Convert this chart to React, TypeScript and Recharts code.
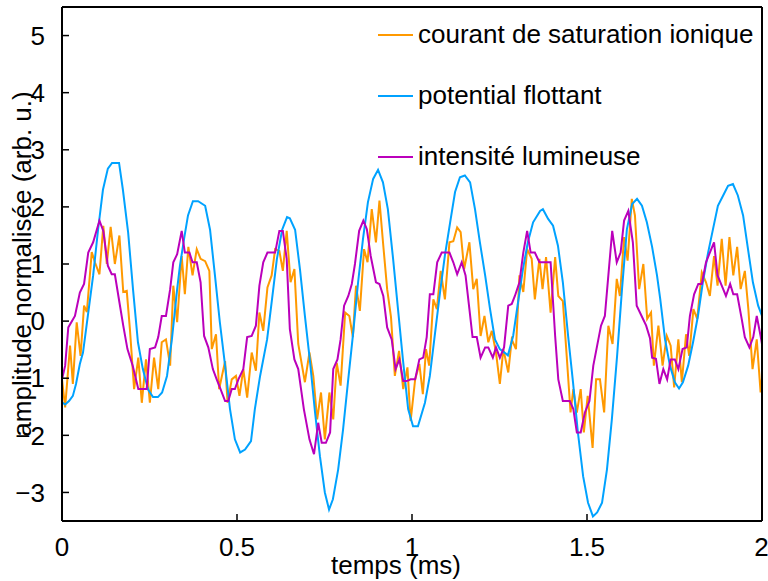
import { LineChart, Line, XAxis, YAxis, Legend } from 'recharts';

// time (ms), amplitude pairs
const courant: [number, number][] = [
  [0, -1.02], [0.009, -1.51], [0.023, -0.43], [0.031, -1.1], [0.042, -0.02], [0.053, -0.61],
  [0.063, 0.27], [0.071, 0.16], [0.085, 1.21], [0.094, 1.03], [0.107, 0.82], [0.118, 1.67],
  [0.128, 1.0], [0.139, 1.65], [0.151, 1.0], [0.164, 1.5], [0.175, 0.51], [0.185, 0.53],
  [0.194, -0.14], [0.206, -1.19], [0.218, -0.64], [0.228, -1.43], [0.24, -0.67], [0.251, -1.43],
  [0.263, -0.64], [0.275, -1.19], [0.285, -0.37], [0.297, -0.32], [0.309, -0.78], [0.318, 0.62],
  [0.329, -0.02], [0.342, 1.14], [0.351, 0.47], [0.361, 1.3], [0.373, 0.8], [0.385, 1.26],
  [0.396, 1.09], [0.409, 1.05], [0.421, 0.88], [0.428, -0.49], [0.44, -0.23], [0.449, -1.19],
  [0.466, -0.7], [0.473, -1.43], [0.485, -1.02], [0.497, -0.96], [0.507, -1.31], [0.518, -0.84],
  [0.529, -1.34], [0.542, -0.55], [0.554, -0.87], [0.564, 0.15], [0.575, -0.17], [0.587, 0.59],
  [0.599, 0.8], [0.609, 1.26], [0.621, 1.23], [0.631, 0.88], [0.642, 1.58], [0.653, 0.68],
  [0.664, 0.91], [0.675, -0.4], [0.694, -1.07], [0.707, -0.55], [0.718, -0.96], [0.729, -1.72],
  [0.74, -1.25], [0.751, -2.07], [0.764, -1.25], [0.775, -1.72], [0.785, -0.73], [0.796, -1.13],
  [0.809, 0.15], [0.821, 0.09], [0.831, -0.28], [0.84, 0.62], [0.851, 0.18], [0.863, 1.26],
  [0.873, 1.03], [0.885, 1.96], [0.897, 1.38], [0.907, 2.11], [0.918, 1.32], [0.929, 0.56],
  [0.94, 0.07], [0.951, -0.96], [0.963, -0.52], [0.975, -1.19], [0.987, -0.81], [0.996, -1.75],
  [1.009, -1.02], [1.021, -0.75], [1.031, -1.28], [1.04, -0.49], [1.049, -0.78], [1.061, 0.38],
  [1.071, 0.21], [1.082, 0.88], [1.094, 0.38], [1.107, 1.38], [1.118, 1.4], [1.129, 1.64],
  [1.139, 1.56], [1.149, 0.91], [1.164, 1.38], [1.175, 0.56], [1.185, 0.74], [1.196, -0.26],
  [1.207, 0.09], [1.218, -0.37], [1.228, -0.17], [1.24, -0.55], [1.251, -1.1], [1.261, -0.49],
  [1.275, -0.9], [1.285, -0.32], [1.297, -0.49], [1.307, 0.8], [1.318, 0.51], [1.329, 1.26],
  [1.342, 1.09], [1.351, 0.38], [1.364, 1.09], [1.373, 0.56], [1.383, 1.12], [1.396, 0.15],
  [1.409, 1.12], [1.418, 0.44], [1.431, 0.35], [1.442, -0.61], [1.453, -1.6], [1.461, -1.19],
  [1.471, -1.6], [1.482, -1.19], [1.491, -1.95], [1.502, -1.31], [1.516, -2.22], [1.526, -1.02],
  [1.537, -1.02], [1.549, -1.6], [1.561, -0.08], [1.573, -0.4], [1.585, 0.74], [1.594, 0.44],
  [1.606, 1.47], [1.616, 1.06], [1.628, 2.14], [1.637, 1.85], [1.649, 0.56], [1.661, 1.0],
  [1.672, 0.04], [1.683, 0.15], [1.691, -0.78], [1.704, -0.08], [1.716, -0.78], [1.728, -0.26],
  [1.739, -0.43], [1.749, -1.16], [1.761, -0.32], [1.771, -1.07], [1.783, -0.23], [1.792, -0.61],
  [1.804, 0.21], [1.815, 0.04], [1.828, 0.85], [1.84, 0.68], [1.851, 0.44], [1.863, 1.14],
  [1.873, 0.62], [1.885, 1.44], [1.896, 0.62], [1.907, 1.47], [1.918, 0.8], [1.929, 1.3],
  [1.939, 0.56], [1.951, 0.88], [1.961, 0.21], [1.973, -0.84], [1.985, -0.32], [1.996, -1.25],
  [2.0, -1.0],
];

const potentiel: [number, number][] = [
  [0, -1.42], [0.009, -1.46], [0.02, -1.4], [0.031, -1.31], [0.04, -1.1], [0.051, -0.75],
  [0.06, -0.55], [0.074, 0.1], [0.089, 0.8], [0.103, 1.6], [0.117, 2.3], [0.131, 2.67],
  [0.143, 2.77], [0.163, 2.77], [0.174, 2.3], [0.189, 1.55], [0.203, 0.55], [0.217, -0.37],
  [0.231, -0.84], [0.246, -1.2], [0.26, -1.33], [0.274, -1.33], [0.286, -1.25], [0.3, -0.96],
  [0.314, -0.32], [0.329, 0.56], [0.337, 0.97], [0.349, 1.45], [0.36, 1.85], [0.374, 2.1],
  [0.389, 2.1], [0.409, 2.02], [0.423, 1.6], [0.437, 0.8], [0.451, -0.02], [0.466, -0.78],
  [0.48, -1.54], [0.494, -2.07], [0.509, -2.3], [0.523, -2.25], [0.54, -2.1], [0.551, -1.54],
  [0.566, -0.96], [0.586, -0.32], [0.6, 0.38], [0.614, 1.09], [0.629, 1.6], [0.643, 1.82],
  [0.651, 1.8], [0.666, 1.6], [0.68, 0.9], [0.694, 0.09], [0.709, -0.73], [0.723, -1.6],
  [0.737, -2.37], [0.751, -3.0], [0.763, -3.3], [0.774, -3.12], [0.789, -2.6], [0.803, -1.9],
  [0.817, -1.07], [0.831, -0.26], [0.846, 0.68], [0.86, 1.44], [0.874, 2.08], [0.889, 2.49],
  [0.903, 2.65], [0.917, 2.43], [0.931, 1.96], [0.946, 1.09], [0.96, 0.21], [0.974, -0.67],
  [0.989, -1.54], [1.003, -1.84], [1.017, -1.84], [1.037, -1.43], [1.051, -0.96], [1.066, -0.2],
  [1.08, 0.5], [1.094, 1.15], [1.109, 1.73], [1.123, 2.26], [1.137, 2.52], [1.151, 2.55],
  [1.166, 2.43], [1.18, 1.96], [1.194, 1.38], [1.209, 0.8], [1.223, 0.21], [1.237, -0.32],
  [1.251, -0.49], [1.266, -0.56], [1.274, -0.6], [1.289, -0.26], [1.303, 0.33], [1.317, 0.91],
  [1.331, 1.38], [1.346, 1.73], [1.366, 1.93], [1.374, 1.96], [1.389, 1.79], [1.403, 1.67],
  [1.417, 1.32], [1.431, 0.68], [1.446, -0.26], [1.46, -1.07], [1.474, -1.95], [1.489, -2.72],
  [1.503, -3.18], [1.517, -3.42], [1.529, -3.35], [1.543, -3.18], [1.557, -2.6], [1.571, -1.72],
  [1.586, -0.61], [1.6, 0.56], [1.614, 1.61], [1.629, 2.05], [1.643, 2.14], [1.657, 2.02],
  [1.671, 1.73], [1.686, 1.3], [1.7, 0.8], [1.709, 0.4], [1.723, -0.32], [1.737, -0.78],
  [1.751, -1.07], [1.763, -1.18], [1.774, -1.07], [1.789, -0.78], [1.803, -0.37], [1.817, 0.09],
  [1.831, 0.68], [1.846, 1.2], [1.86, 1.61], [1.874, 2.02], [1.889, 2.2], [1.903, 2.37],
  [1.917, 2.4], [1.931, 2.2], [1.946, 1.85], [1.96, 1.26], [1.974, 0.68], [1.989, 0.27],
  [2.0, 0.09],
];

const intensite: [number, number][] = [
  [0, -1.02], [0.009, -0.78], [0.018, -0.11], [0.037, 0.09], [0.051, 0.5], [0.063, 0.65],
  [0.075, 1.2], [0.089, 1.38], [0.107, 1.76], [0.118, 1.58], [0.131, 0.97], [0.142, 0.82],
  [0.151, 0.82], [0.164, 0.33], [0.175, -0.08], [0.187, -0.49], [0.202, -0.78], [0.218, -1.19],
  [0.242, -1.19], [0.251, -0.49], [0.266, -0.46], [0.275, -0.28], [0.285, 0.09], [0.297, 0.09],
  [0.309, 0.56], [0.318, 1.03], [0.329, 1.17], [0.342, 1.58], [0.351, 1.2], [0.364, 1.2],
  [0.373, 1.03], [0.385, 1.03], [0.396, 0.68], [0.406, -0.26], [0.418, -0.46], [0.431, -0.84],
  [0.442, -1.02], [0.453, -1.19], [0.466, -1.4], [0.475, -1.4], [0.485, -1.19], [0.494, -1.19],
  [0.504, -1.02], [0.518, -0.84], [0.529, -0.28], [0.542, -0.26], [0.554, -0.08], [0.564, 0.62],
  [0.575, 1.03], [0.587, 1.2], [0.609, 1.2], [0.621, 1.58], [0.631, 1.58], [0.642, 1.09],
  [0.651, -0.14], [0.664, -0.67], [0.675, -0.84], [0.683, -1.19], [0.691, -1.54], [0.707, -2.07],
  [0.72, -2.33], [0.732, -1.78], [0.742, -2.13], [0.754, -2.13], [0.766, -1.95], [0.775, -0.84],
  [0.787, -0.67], [0.796, -0.32], [0.806, 0.27], [0.818, 0.44], [0.828, 0.65], [0.837, 1.0],
  [0.849, 1.58], [0.861, 1.76], [0.871, 1.61], [0.882, 1.14], [0.897, 0.68], [0.907, 0.65],
  [0.918, 0.44], [0.929, -0.11], [0.942, -0.32], [0.953, -0.84], [0.964, -0.67], [0.975, -1.05],
  [0.985, -1.05], [0.996, -1.02], [1.009, -1.02], [1.021, -0.67], [1.032, -0.64], [1.042, -0.28],
  [1.051, 0.47], [1.061, 0.47], [1.072, 1.03], [1.085, 1.2], [1.107, 1.2], [1.118, 1.03],
  [1.129, 0.82], [1.142, 1.03], [1.153, 0.8], [1.164, 0.21], [1.173, -0.28], [1.185, -0.28],
  [1.196, -0.64], [1.209, -0.46], [1.218, -0.46], [1.231, -0.64], [1.24, -0.46], [1.251, -0.64],
  [1.263, -0.46], [1.275, 0.27], [1.285, 0.3], [1.294, 0.44], [1.307, 0.68], [1.318, 1.2],
  [1.329, 1.58], [1.339, 1.2], [1.351, 1.2], [1.364, 1.03], [1.396, 1.03], [1.409, -0.26],
  [1.418, -1.02], [1.431, -1.4], [1.451, -1.4], [1.461, -1.54], [1.471, -1.95], [1.482, -1.95],
  [1.494, -1.6], [1.507, -1.4], [1.518, -0.78], [1.529, -0.43], [1.54, -0.08], [1.551, 0.09],
  [1.561, 0.8], [1.572, 1.58], [1.585, 1.03], [1.596, 1.2], [1.606, 1.76], [1.618, 1.93],
  [1.631, 1.38], [1.642, 0.27], [1.656, 0.09], [1.669, -0.08], [1.68, -0.3], [1.686, -0.64],
  [1.697, -0.66], [1.707, -1.1], [1.718, -0.84], [1.729, -1.02], [1.739, -0.67], [1.751, -0.67],
  [1.761, -0.84], [1.773, -0.49], [1.785, -0.46], [1.794, 0.09], [1.806, 0.47], [1.818, 0.65],
  [1.828, 0.65], [1.84, 1.03], [1.851, 1.2], [1.863, 1.38], [1.873, 0.8], [1.885, 0.62],
  [1.897, 0.44], [1.909, 0.65], [1.918, 0.47], [1.929, 0.47], [1.942, 0.04], [1.951, -0.28],
  [1.964, -0.46], [1.975, -0.28], [1.985, 0.09], [1.996, -0.26], [2.0, -0.4],
];

const seriesNames = ['courant de saturation ionique', 'potential flottant', 'intensité lumineuse'];
const seriesColors = ['#ff9900', '#00a2ff', '#bb00bb'];

const xTicks = [0, 0.5, 1, 1.5, 2];
const yTicks = [-3, -2, -1, 0, 1, 2, 3, 4, 5];

const FONT = '"Liberation Sans", Arial, Helvetica, sans-serif';
const axisLine = { stroke: '#000', strokeWidth: 2 };
const tickLine = { stroke: '#000', strokeWidth: 1.5 };
const tickStyle = { fill: '#000', fontSize: 26, fontFamily: FONT };

const toPoints = (pairs: [number, number][]) => pairs.map(([t, v]) => ({ t, v }));

const fmtY = (v: number) => (v < 0 ? '\u2212' + Math.abs(v) : String(v));

// legend keeps the plotting order (no alphabetical sort)
const LegendBox = () => (
  <div style={{ fontFamily: FONT, fontSize: 26, color: '#000' }}>
    {seriesNames.map((name, i) => (
      <div key={name} style={{ height: 61, display: 'flex', alignItems: 'center', whiteSpace: 'nowrap' }}>
        <svg width={35} height={4} style={{ display: 'block' }}>
          <line x1={0} y1={2} x2={35} y2={2} stroke={seriesColors[i]} strokeWidth={2} />
        </svg>
        <span style={{ marginLeft: 5 }}>{name}</span>
      </div>
    ))}
  </div>
);

export default function App() {
  const series = [courant, potentiel, intensite];
  return (
    <div style={{ width: 768, height: 581, overflow: 'hidden', background: '#fff' }}>
      <style>{'body{margin:0}'}</style>
      <LineChart width={768} height={581} margin={{ top: 6, right: 5, bottom: 0, left: 0 }}>
        <XAxis
          dataKey="t"
          type="number"
          domain={[0, 2]}
          ticks={xTicks}
          allowDataOverflow
          height={60}
          axisLine={axisLine}
          tickLine={tickLine}
          tickSize={-7}
          tickMargin={24}
          tick={tickStyle}
          label={{
            content: () => (
              <text x={396} y={574} textAnchor="middle" fontSize={26} fontFamily={FONT} fill="#000">
                temps (ms)
              </text>
            ),
          }}
        />
        <XAxis
          xAxisId="top"
          orientation="top"
          dataKey="t"
          type="number"
          domain={[0, 2]}
          ticks={xTicks}
          height={1}
          axisLine={axisLine}
          tickLine={tickLine}
          tickSize={-7}
          tick={false}
        />
        <YAxis
          type="number"
          domain={[-3.5, 5.5]}
          ticks={yTicks}
          allowDataOverflow
          width={62}
          axisLine={axisLine}
          tickLine={tickLine}
          tickSize={-7}
          tickMargin={24}
          tick={tickStyle}
          tickFormatter={fmtY}
          label={{
            content: () => (
              <text
                x={22}
                y={264}
                transform="rotate(-90 22 264)"
                textAnchor="middle"
                dominantBaseline="central"
                fontSize={26}
                fontFamily={FONT}
                fill="#000"
              >
                amplitude normalisée (arb. u.)
              </text>
            ),
          }}
        />
        <YAxis
          yAxisId="right"
          orientation="right"
          type="number"
          domain={[-3.5, 5.5]}
          ticks={yTicks}
          width={1}
          axisLine={axisLine}
          tickLine={tickLine}
          tickSize={-7}
          tick={false}
        />
        {series.map((s, i) => (
          <Line
            key={seriesNames[i]}
            data={toPoints(s)}
            dataKey="v"
            name={seriesNames[i]}
            stroke={seriesColors[i]}
            strokeWidth={2}
            dot={false}
            type="linear"
            isAnimationActive={false}
          />
        ))}
        <Legend
          layout="vertical"
          align="center"
          verticalAlign="middle"
          content={<LegendBox />}
          wrapperStyle={{ left: 378, top: 4, width: 390, bottom: 'auto', right: 'auto' }}
        />
      </LineChart>
    </div>
  );
}
